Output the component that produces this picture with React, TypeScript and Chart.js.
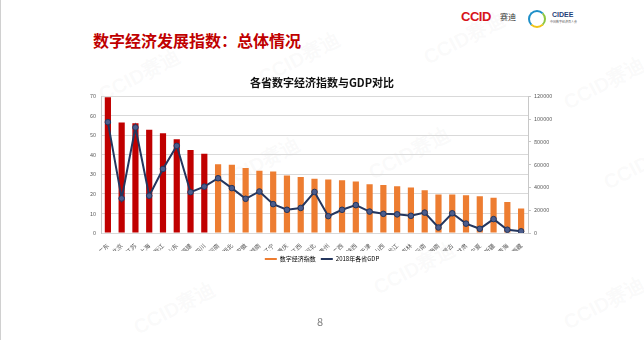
import { useEffect, useRef } from 'react';
import { Chart, registerables } from 'chart.js';

Chart.register(...registerables);

const FONT = '"Noto Sans CJK SC", "Noto Sans", sans-serif';

const provinces = [
  '广东', '北京', '江苏', '上海', '浙江', '山东', '福建', '四川', '河南', '湖北', '安徽',
  '湖南', '辽宁', '重庆', '江西', '河北', '贵州', '广西', '陕西', '天津', '山西', '黑龙江',
  '吉林', '云南', '海南', '内蒙古', '甘肃', '宁夏', '新疆', '青海', '西藏',
];

const digitalIndex = [
  69.5, 56.5, 56.2, 52.8, 51.0, 48.0, 42.5, 40.6, 35.2, 34.9, 33.2,
  31.8, 31.5, 29.4, 28.7, 27.7, 27.4, 27.0, 26.4, 25.0, 24.5, 23.9,
  23.3, 21.9, 19.7, 19.7, 19.3, 18.8, 18.0, 15.9, 12.5,
];

const gdp2018 = [
  97278, 30320, 92595, 32680, 56197, 76470, 35804, 40678, 48056, 39367, 30007,
  36426, 25315, 20363, 21985, 36010, 14806, 20353, 24438, 18810, 16818, 16362,
  15075, 17881, 4832, 17289, 8246, 3705, 12199, 2865, 1478,
];

const topGroupCount = 8;
const leftAxisMax = 70;
const leftAxisStep = 10;
const rightAxisMax = 120000;
const rightAxisStep = 20000;

const barLabel = '数字经济指数';
const lineLabel = '2018年各省GDP';

const watermarks: Array<[number, number]> = [
  [95, 62], [255, 45], [420, 25], [560, 70], [215, 150], [365, 140], [600, 150], [370, 255], [130, 295], [560, 290],
];

export default function App() {
  const ref = useRef<HTMLCanvasElement>(null);

  useEffect(() => {
    document.body.style.margin = '0';
    const chart = new Chart(ref.current!, {
      type: 'bar',
      data: {
        labels: provinces,
        datasets: [
          {
            type: 'bar',
            label: barLabel,
            data: digitalIndex,
            backgroundColor: digitalIndex.map((_, i) => (i < topGroupCount ? '#C00000' : '#ED7D31')),
            yAxisID: 'y',
            barPercentage: 0.45,
            categoryPercentage: 1,
            order: 2,
          },
          {
            type: 'line',
            label: lineLabel,
            data: gdp2018,
            yAxisID: 'y1',
            borderColor: '#24365E',
            borderWidth: 2,
            pointRadius: 2.8,
            pointBackgroundColor: '#4B5C8C',
            pointBorderColor: '#24365E',
            pointBorderWidth: 1,
            tension: 0,
            order: 1,
          },
        ],
      } as any,
      options: {
        responsive: false,
        animation: false,
        layout: { padding: { top: 76, bottom: 68, left: 0, right: 0 } },
        plugins: {
          title: {
            display: true,
            text: '各省数字经济指数与GDP对比',
            color: '#111',
            font: { size: 11, weight: 'bold', family: FONT },
            padding: { top: 0, bottom: 7 },
          },
          legend: {
            position: 'bottom',
            labels: {
              boxWidth: 12,
              boxHeight: 2,
              padding: 5,
              color: '#595959',
              font: { size: 6, family: FONT },
              generateLabels: () => [
                { text: barLabel, fillStyle: '#ED7D31', strokeStyle: '#ED7D31', lineWidth: 0, hidden: false, datasetIndex: 0 },
                { text: lineLabel, fillStyle: '#24365E', strokeStyle: '#24365E', lineWidth: 0, hidden: false, datasetIndex: 1 },
              ],
            },
          },
          tooltip: { enabled: false },
        },
        scales: {
          x: {
            grid: { display: false },
            border: { color: '#D9D9D9' },
            ticks: {
              autoSkip: false,
              maxRotation: 45,
              minRotation: 45,
              padding: 1,
              color: '#595959',
              font: { size: 6, family: FONT },
            },
            afterFit: (s: any) => { s.height = 18; },
          },
          y: {
            position: 'left',
            min: 0,
            max: leftAxisMax,
            ticks: {
              stepSize: leftAxisStep,
              padding: 5,
              color: '#595959',
              font: { size: 5.5, family: FONT },
            },
            grid: { color: '#D9D9D9', drawTicks: false },
            border: { color: '#C8C8C8' },
            afterFit: (s: any) => { s.width = 101; },
          },
          y1: {
            position: 'right',
            min: 0,
            max: rightAxisMax,
            ticks: {
              stepSize: rightAxisStep,
              padding: 3,
              color: '#595959',
              font: { size: 5.5, family: FONT },
              callback: (v: any) => String(v),
            },
            grid: { drawOnChartArea: false, tickLength: 3, color: '#C8C8C8' },
            border: { color: '#C8C8C8' },
            afterFit: (s: any) => { s.width = 116; },
          },
        },
      } as any,
    });
    return () => chart.destroy();
  }, []);

  return (
    <div style={{ position: 'absolute', left: 0, top: 0, width: 644, height: 340, background: '#fff', overflow: 'hidden', fontFamily: FONT }}>
      <div style={{ position: 'absolute', left: 0, top: 0, width: 1, height: 340, background: '#D0D0D0' }} />
      {watermarks.map(([x, y], i) => (
        <div key={i} style={{ position: 'absolute', left: x, top: y, fontSize: 20, fontWeight: 'bold', color: 'rgba(180,180,180,0.07)', transform: 'rotate(-28deg)', whiteSpace: 'nowrap', fontFamily: 'Liberation Sans, Arial, sans-serif' }}>
          CCID赛迪
        </div>
      ))}
      <div style={{ position: 'absolute', left: 93, top: 30, fontSize: 16, lineHeight: '20px', fontWeight: 'bold', color: '#C00000', whiteSpace: 'nowrap' }}>
        数字经济发展指数：总体情况
      </div>
      <div style={{ position: 'absolute', left: 461, top: 10, fontSize: 13, lineHeight: '14px', fontWeight: 'bold', color: '#D7141A', fontFamily: 'Liberation Sans, Arial, sans-serif', letterSpacing: -0.5 }}>
        CCID
      </div>
      <div style={{ position: 'absolute', left: 500, top: 11, fontSize: 8, lineHeight: '12px', color: '#333', whiteSpace: 'nowrap' }}>赛迪</div>
      <div style={{ position: 'absolute', left: 528, top: 10, width: 14, height: 14, borderRadius: '50%', border: '2px solid #1E8FC8', borderRightColor: '#8DC63F', borderBottomColor: '#F0C419' }} />
      <div style={{ position: 'absolute', left: 552, top: 10, fontSize: 7, lineHeight: '9px', fontWeight: 'bold', color: '#1F3F7A', fontFamily: 'Liberation Sans, Arial, sans-serif' }}>CIDEE</div>
      <div style={{ position: 'absolute', left: 550, top: 20, fontSize: 3, lineHeight: '4px', color: '#666', whiteSpace: 'nowrap' }}>中国数字经济百人会</div>
      <canvas ref={ref} width={644} height={340} style={{ position: 'absolute', left: 0, top: 0, display: 'block' }} />
      <div style={{ position: 'absolute', left: 317, top: 314, fontSize: 11, lineHeight: '14px', color: '#808080' }}>8</div>
    </div>
  );
}
